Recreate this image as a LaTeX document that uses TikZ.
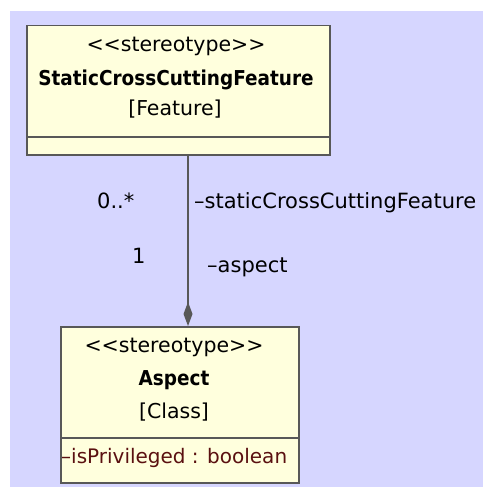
\documentclass[tikz,border=0pt]{standalone}
\usepackage{fontspec}
\setmainfont{DejaVu Sans}
\newfontface\umlbold{DejaVu Sans Bold}[FakeStretch=0.9]
\usetikzlibrary{arrows.meta}

\definecolor{bgblue}{RGB}{214,214,255}
\definecolor{boxfill}{RGB}{255,255,221}
\definecolor{boxline}{RGB}{88,88,88}
\definecolor{attrred}{RGB}{90,16,16}

\tikzset{
  umlbox/.style={draw=boxline, fill=boxfill, line width=1.5pt, inner sep=0pt, anchor=north west},
  txt/.style={anchor=base, inner sep=0pt, font=\fontsize{20.5}{24}\selectfont},
  bold/.style={anchor=base, inner sep=0pt, font=\fontsize{20.5}{24}\selectfont\umlbold},
  lbl/.style={anchor=base west, inner sep=0pt, font=\fontsize{21}{25}\selectfont}
}
\newcommand{\stereo}{{<}{<}stereotype{>}{>}}

\begin{document}
\begin{tikzpicture}[x=1pt, y=-1pt]
\useasboundingbox (0,0) rectangle (483,487);
\fill[color=bgblue] (10,11) rectangle (483,487);

% StaticCrossCuttingFeature
\fill[color=black!40] (27.5,26.5) rectangle (330.5,155.5);
\node[umlbox, minimum width=303pt, minimum height=129pt] (feat) at (26,25) {};
\draw[color=boxline, line width=1.5pt] (26,137) -- (329,137);
\node[txt] (featst) at (176,52) {\stereo};
\node[bold] (featname) at (176,85) {StaticCrossCuttingFeature};
\node[txt] (featkind) at (175,115) {[Feature]};

% Aspect
\fill[color=black!40] (61.5,327.5) rectangle (299.5,483.5);
\node[umlbox, minimum width=238pt, minimum height=156pt] (asp) at (60,326) {};
\draw[color=boxline, line width=1.5pt] (60,438) -- (298,438);
\node[txt] (aspst) at (174,352) {\stereo};
\node[bold] (aspname) at (174,385) {Aspect};
\node[txt] (aspkind) at (174,418) {[Class]};
\node[lbl, color=attrred, font=\fontsize{20}{24}\selectfont] (aspattr) at (61,463) {–isPrivileged : boolean};

% composition
\coordinate (lane) at (188,0);
\draw[color=boxline, line width=1.5pt, -{Diamond[length=24pt, width=9pt]}]
  (feat.south -| lane) -- (asp.north -| lane);

\node[lbl] (multfeat) at (97,208) {0..*};
\node[lbl] (multasp) at (132,263) {1};
\node[lbl] (rolefeat) at (194,208) {–staticCrossCuttingFeature};
\node[lbl] (roleasp) at (207,272) {–aspect};
\end{tikzpicture}
\end{document}
